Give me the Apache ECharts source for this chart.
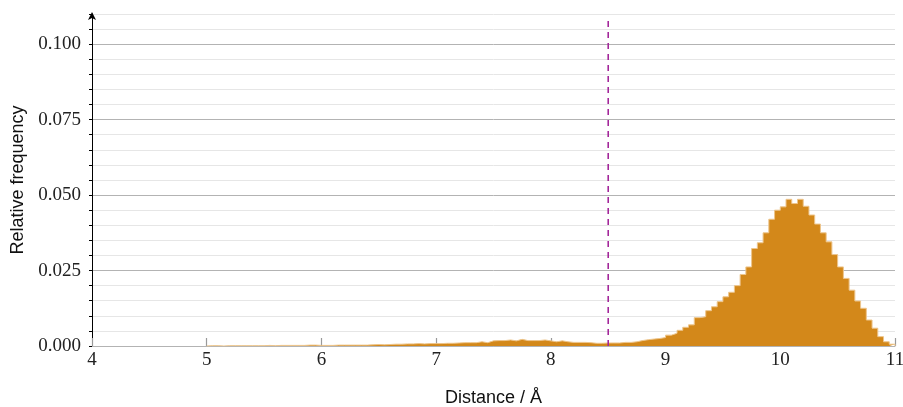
<!DOCTYPE html>
<html>
<head>
<meta charset="utf-8">
<script src="https://cdn.jsdelivr.net/npm/echarts@6/dist/echarts.min.js"></script>
<style>
html,body{margin:0;padding:0;background:#fff;}
#chart{width:903px;height:407px;}
</style>
</head>
<body>
<div id="chart"></div>
<script>
// Histogram bins (left edges, Å) and relative frequencies
const binWidth = 0.05;
const binLeft = [
 5.00,5.05,5.10,5.15,5.20,5.25,5.30,5.35,5.40,5.45,
 5.50,5.55,5.60,5.65,5.70,5.75,5.80,5.85,5.90,5.95,
 6.00,6.05,6.10,6.15,6.20,6.25,6.30,6.35,6.40,6.45,
 6.50,6.55,6.60,6.65,6.70,6.75,6.80,6.85,6.90,6.95,
 7.00,7.05,7.10,7.15,7.20,7.25,7.30,7.35,7.40,7.45,
 7.50,7.55,7.60,7.65,7.70,7.75,7.80,7.85,7.90,7.95,
 8.00,8.05,8.10,8.15,8.20,8.25,8.30,8.35,8.40,8.45,
 8.50,8.55,8.60,8.65,8.70,8.75,8.80,8.85,8.90,8.95,
 9.00,9.05,9.10,9.15,9.20,9.25,9.30,9.35,9.40,9.45,
 9.50,9.55,9.60,9.65,9.70,9.75,9.80,9.85,9.90,9.95,
 10.00,10.05,10.10,10.15,10.20,10.25,10.30,10.35,10.40,10.45,
 10.50,10.55,10.60,10.65,10.70,10.75,10.80,10.85,10.90,10.95
];
const freq = [
 0.0001,0.0001,0.0000,0.0001,0.0001,0.0001,0.0001,0.0001,0.0001,0.0001,
 0.0002,0.0001,0.0002,0.0002,0.0002,0.0002,0.0002,0.0003,0.0003,0.0002,
 0.0002,0.0002,0.0003,0.0003,0.0003,0.0003,0.0003,0.0003,0.0004,0.0005,
 0.0004,0.0005,0.0006,0.0006,0.0007,0.0007,0.0008,0.0007,0.0008,0.0008,
 0.0008,0.0009,0.0009,0.0010,0.0011,0.0011,0.0011,0.0014,0.0011,0.0017,
 0.0018,0.0018,0.0020,0.0017,0.0022,0.0018,0.0018,0.0018,0.0020,0.0017,
 0.0014,0.0017,0.0014,0.0012,0.0012,0.0012,0.0011,0.0009,0.0009,0.0010,
 0.0010,0.0010,0.0012,0.0012,0.0014,0.0018,0.0021,0.0023,0.0025,0.0028,
 0.0036,0.0042,0.0052,0.0062,0.0070,0.0094,0.0097,0.0117,0.0130,0.0147,
 0.0163,0.0178,0.0200,0.0237,0.0262,0.0323,0.0342,0.0375,0.0420,0.0450,
 0.0461,0.0486,0.0472,0.0486,0.0463,0.0434,0.0404,0.0375,0.0345,0.0303,
 0.0262,0.0224,0.0185,0.0149,0.0125,0.0086,0.0059,0.0031,0.0014,0.0006
];
const cutoff = 8.5;
const xMin = 4, xMax = 11, xInterval = 1;
const yMax = 0.11, yMinorStep = 0.005;

const barColor = '#D3881A';
const edgeColor = '#EDC58C';

// stepped histogram outline: one point per bin edge
const histPath = [[binLeft[0], 0]];
binLeft.forEach((b, i) => { histPath.push([b, freq[i]]); });
histPath.push([binLeft[binLeft.length - 1] + binWidth, freq[freq.length - 1]]);
histPath.push([binLeft[binLeft.length - 1] + binWidth, 0]);

const serif = '"Liberation Serif", "DejaVu Serif", serif';
const sans = '"Liberation Sans", Arial, sans-serif';

const chart = echarts.init(document.getElementById('chart'), null, {renderer: 'canvas'});
chart.setOption({
  animation: false,
  backgroundColor: '#ffffff',
  grid: {left: 92, right: 8, top: 14, bottom: 61, containLabel: false, outerBoundsMode: 'none'},
  xAxis: {
    type: 'value', min: xMin, max: xMax, interval: xInterval,
    name: 'Distance / Å', nameLocation: 'middle', nameGap: 43,
    nameTextStyle: {fontFamily: sans, fontSize: 18, color: '#111'},
    axisLine: {show: true, lineStyle: {color: '#b3b3b3', width: 1}},
    axisTick: {show: true, inside: true, length: 8, lineStyle: {color: '#999', width: 1.2}},
    axisLabel: {fontFamily: serif, fontSize: 19, color: '#222', margin: 5},
    splitLine: {show: false}
  },
  yAxis: {
    type: 'value', min: 0, max: yMax, interval: yMinorStep,
    name: 'Relative frequency', nameLocation: 'middle', nameGap: 57, nameRotate: 90,
    nameTextStyle: {fontFamily: sans, fontSize: 18, color: '#111'},
    axisLine: {show: true, lineStyle: {color: '#000', width: 1}, symbol: ['none', 'arrow'], symbolSize: [6, 8], symbolOffset: [0, 2]},
    axisTick: {show: true, length: 3, lineStyle: {color: '#000', width: 1}},
    axisLabel: {
      fontFamily: serif, fontSize: 19, color: '#222', margin: 11,
      formatter: function (v, idx) {
        const k = Math.round(v / yMinorStep);
        return (k % 5 === 0 && k < 22) ? v.toFixed(3) : '';
      }
    },
    splitLine: {show: true, lineStyle: {color: ['#b3b3b3', '#e6e6e6', '#e6e6e6', '#e6e6e6', '#e6e6e6'], width: 1}}
  },
  series: [
    {
      type: 'line', data: histPath, step: 'end', symbol: 'none', z: 2, silent: true,
      lineStyle: {color: edgeColor, width: 1},
      areaStyle: {color: barColor, opacity: 1, origin: 'start'}
    },
    {
      type: 'line', z: 3, symbol: 'none', silent: true,
      data: [[cutoff, 0], [cutoff, 0.1085]],
      lineStyle: {color: '#A3269A', width: 1.6, type: [6, 5]}
    }
  ]
});
</script>
</body>
</html>
